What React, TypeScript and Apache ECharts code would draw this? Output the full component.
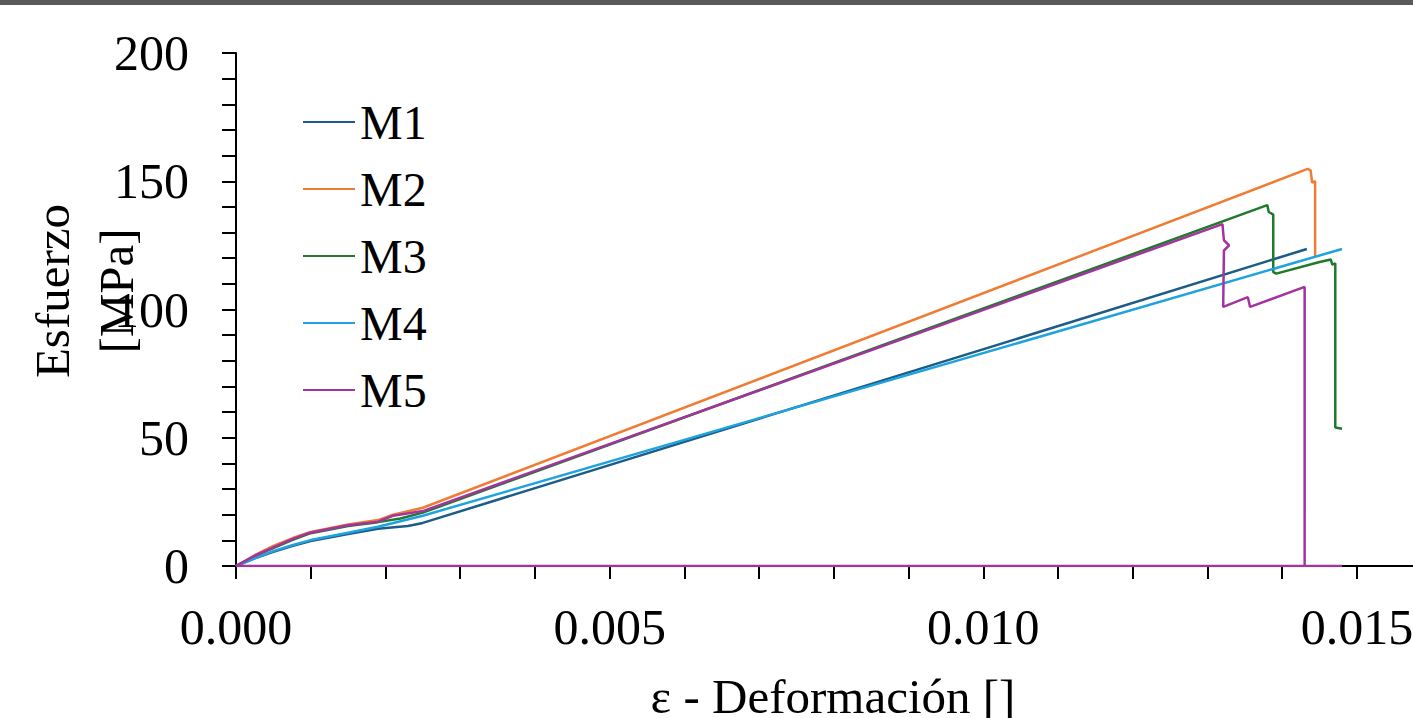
import React, { useEffect, useRef } from "react";
import * as echarts from "echarts";

const seriesNames = ["M1", "M2", "M3", "M4", "M5"];
const seriesColors = ["#1c5c87", "#f07c33", "#1f7a2b", "#1fa3de", "#a3349e"];

const m1Strain = [0, 0.00025, 0.0005, 0.00075, 0.001, 0.0015, 0.0019, 0.0023, 0.0025, 0.01433];
const m1Stress = [0, 3, 5.5, 7.8, 9.7, 12.5, 14.5, 15.6, 16.8, 123.6];

const m2Strain = [0, 0.00025, 0.0005, 0.00075, 0.001, 0.0015, 0.0019, 0.0021, 0.0025, 0.01434, 0.01438, 0.01440, 0.01444, 0.01444];
const m2Stress = [0, 4.2, 7.8, 10.8, 13.3, 16.2, 17.9, 20, 22.7, 154.8, 154.2, 149.5, 150, 120.5];

const m3Strain = [0, 0.00025, 0.0005, 0.00075, 0.001, 0.0015, 0.0019, 0.0022, 0.0025, 0.0138, 0.01382, 0.01388, 0.01388, 0.01392, 0.0145, 0.01465, 0.01467, 0.01471, 0.01471, 0.0148];
const m3Stress = [0, 3.9, 7, 10.1, 12.8, 15.6, 17.1, 18.5, 20.8, 140.7, 138, 137, 114.6, 114, 118.5, 119.5, 117.5, 118, 54, 53.5];

const m4Strain = [0, 0.00025, 0.0005, 0.00075, 0.001, 0.0015, 0.0019, 0.0025, 0.0148];
const m4Stress = [0, 3, 5.8, 8.1, 10.1, 13, 15.3, 19.6, 123.6];

const m5Strain = [0, 0.00025, 0.0005, 0.00075, 0.001, 0.0015, 0.0019, 0.0021, 0.0025, 0.0132, 0.01322, 0.01329, 0.01322, 0.01321, 0.01354, 0.01357, 0.0143, 0.0143, 0.0148, 0];
const m5Stress = [0, 4, 7.3, 10.5, 13.1, 15.9, 17.3, 19.6, 21.4, 133.3, 127, 125, 123, 101, 104.8, 101, 108.8, 0, 0, 0];

const xLabelValues = [0, 0.005, 0.01, 0.015];
const xTickValues = [0, 0.001, 0.002, 0.003, 0.004, 0.005, 0.006, 0.007, 0.008, 0.009, 0.01, 0.011, 0.012, 0.013, 0.014, 0.015];
const yLabelValues = [0, 50, 100, 150, 200];
const yTickValues = [0, 10, 20, 30, 40, 50, 60, 70, 80, 90, 100, 110, 120, 130, 140, 150, 160, 170, 180, 190, 200];

const xTitle = "ε - Deformación []";
const yTitleLine1 = "Esfuerzo";
const yTitleLine2 = "[MPa]";

const FONT = '"Liberation Serif", "Times New Roman", serif';

const zip = (xs: number[], ys: number[]) => xs.map((x, i) => [x, ys[i]]);

export default function App() {
  const ref = useRef<HTMLDivElement>(null);
  useEffect(() => {
    if (!ref.current) return;
    const chart = echarts.init(ref.current, null, { renderer: "svg" });
    const all = [
      zip(m1Strain, m1Stress),
      zip(m2Strain, m2Stress),
      zip(m3Strain, m3Stress),
      zip(m4Strain, m4Stress),
      zip(m5Strain, m5Stress),
    ];
    chart.setOption({
      animation: false,
      backgroundColor: "#ffffff",
      grid: { left: 236, right: 0, top: 53, bottom: 152, containLabel: false, outerBoundsMode: "none" },
      legend: {
        orient: "vertical",
        left: 303,
        top: 98,
        padding: 0,
        icon: "rect",
        itemWidth: 52,
        itemHeight: 2,
        itemGap: 19,
        textStyle: { fontFamily: FONT, fontSize: 48, color: "#000" },
        data: seriesNames,
      },
      xAxis: {
        type: "value",
        min: 0,
        max: 0.01575,
        interval: 0.005,
        splitLine: { show: false },
        axisLine: { onZero: false, lineStyle: { color: "#000", width: 2 } },
        axisTick: { show: true, length: 13, customValues: xTickValues, lineStyle: { color: "#000", width: 2 } },
        axisLabel: {
          customValues: xLabelValues,
          margin: 36,
          fontFamily: FONT,
          fontSize: 50,
          color: "#000",
          formatter: (v: number) => v.toFixed(3),
        },
      },
      yAxis: {
        type: "value",
        min: 0,
        max: 200,
        interval: 50,
        splitLine: { show: false },
        axisLine: { onZero: false, lineStyle: { color: "#000", width: 2 } },
        axisTick: { show: true, length: 14, customValues: yTickValues, lineStyle: { color: "#000", width: 2 } },
        axisLabel: {
          customValues: yLabelValues,
          margin: 47,
          fontFamily: FONT,
          fontSize: 50,
          color: "#000",
        },
      },
      graphic: [
        { type: "rect", left: 0, top: 0, shape: { width: 1413, height: 5 }, style: { fill: "#595959" } },
        {
          type: "text",
          x: 833,
          y: 696,
          style: { text: xTitle, font: `49px ${FONT}`, fill: "#000", textAlign: "center", textVerticalAlign: "middle" },
        },
        {
          type: "text",
          x: 52,
          y: 291,
          rotation: Math.PI / 2,
          style: { text: yTitleLine1, font: `49px ${FONT}`, fill: "#000", textAlign: "center", textVerticalAlign: "middle" },
        },
        {
          type: "text",
          x: 116,
          y: 291,
          rotation: Math.PI / 2,
          style: { text: yTitleLine2, font: `49px ${FONT}`, fill: "#000", textAlign: "center", textVerticalAlign: "middle" },
        },
      ],
      series: all.map((d, i) => ({
        name: seriesNames[i],
        type: "line",
        data: d,
        symbol: "none",
        showSymbol: false,
        color: seriesColors[i],
        itemStyle: { color: seriesColors[i] },
        lineStyle: { color: seriesColors[i], width: 2.5 },
        z: 2 + i,
      })),
    });
    return () => chart.dispose();
  }, []);
  return <div ref={ref} style={{ position: "fixed", left: 0, top: 0, width: 1413, height: 718 }} />;
}
